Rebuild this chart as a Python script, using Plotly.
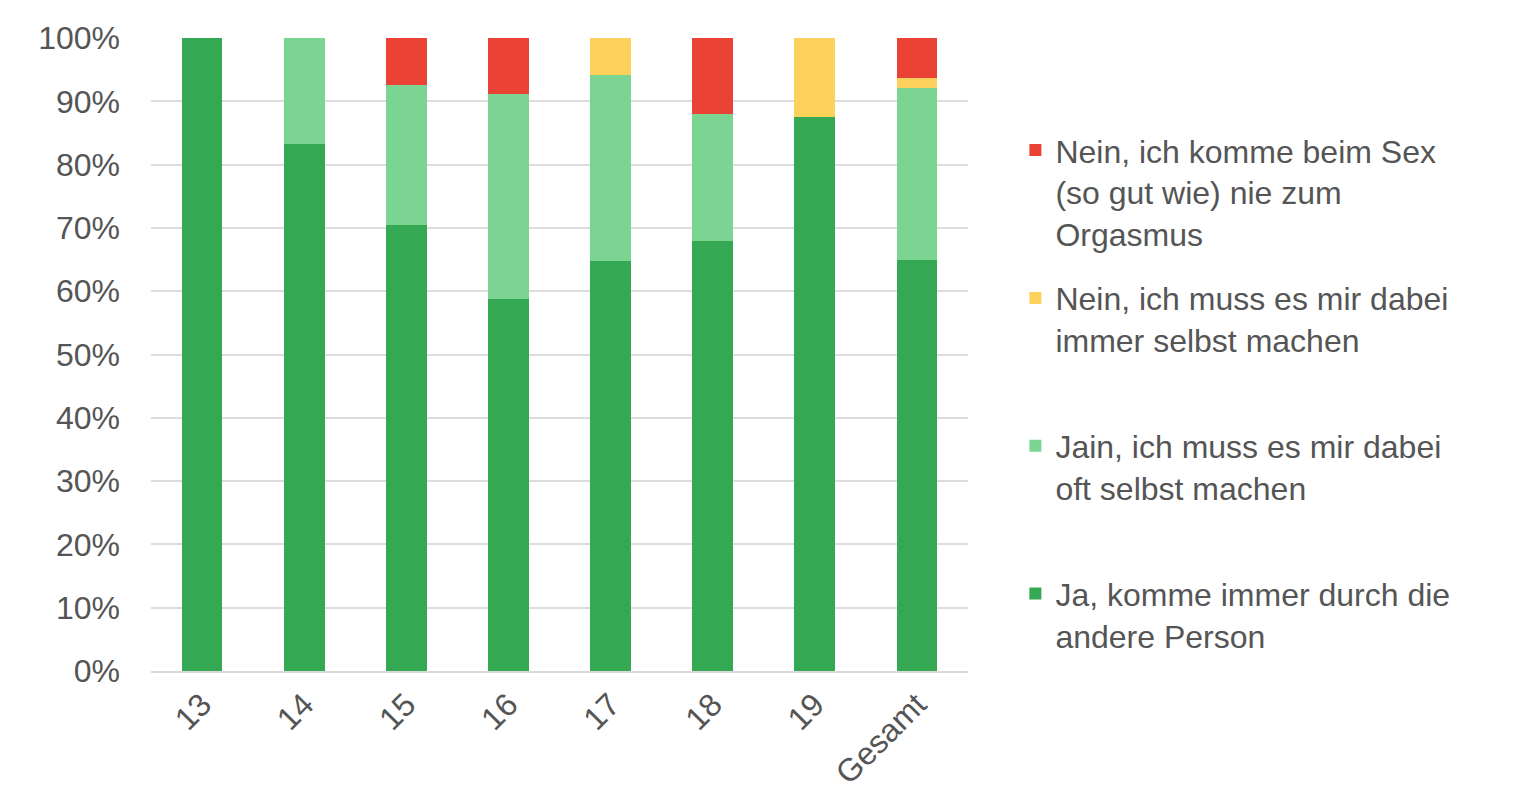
import plotly.graph_objects as go

categories = ["13", "14", "15", "16", "17", "18", "19", "Gesamt"]
ja_immer = [100.0, 83.3, 70.4, 58.8, 64.7, 68.0, 87.5, 64.9]
jain_oft = [0.0, 16.7, 22.2, 32.4, 29.4, 20.0, 0.0, 27.2]
nein_selbst = [0.0, 0.0, 0.0, 0.0, 5.9, 0.0, 12.5, 1.6]
nein_nie = [0.0, 0.0, 7.4, 8.8, 0.0, 12.0, 0.0, 6.3]
y_ticks = [0, 10, 20, 30, 40, 50, 60, 70, 80, 90, 100]
y_tick_labels = ["0%", "10%", "20%", "30%", "40%", "50%", "60%", "70%", "80%", "90%", "100%"]

series = [
    ("Ja, komme immer durch die<br>andere Person", ja_immer, "#34A853"),
    ("Jain, ich muss es mir dabei<br>oft selbst machen<br>&nbsp;", jain_oft, "#7BD492"),
    ("Nein, ich muss es mir dabei<br>immer selbst machen<br>&nbsp;", nein_selbst, "#FCD25C"),
    ("Nein, ich komme beim Sex<br>(so gut wie) nie zum<br>Orgasmus", nein_nie, "#EA4335"),
]

fig = go.Figure()
n = len(series)
for i, (name, vals, color) in enumerate(series):
    fig.add_trace(go.Bar(x=categories, y=vals, name=name, legendgroup=f"g{i}",
                         legendrank=n - i,
                         marker=dict(color=color, line=dict(width=0))))

font_family = "Liberation Sans, Arial, sans-serif"
fig.update_layout(
    barmode="stack",
    bargap=0.6,
    width=1527, height=807,
    margin=dict(l=143, r=567, t=26, b=144),
    paper_bgcolor="#ffffff",
    plot_bgcolor="#ffffff",
    font=dict(family=font_family, size=32, color="#555555"),
    legend=dict(
        traceorder="grouped",
        x=1.058, y=0.866, xanchor="left", yanchor="top",
        valign="top",
        font=dict(size=32, color="#555555"),
        tracegroupgap=20,
        bgcolor="rgba(0,0,0,0)",
    ),
    xaxis=dict(
        tickangle=-45,
        showgrid=False,
        showline=True, linecolor="#d9d9d9", linewidth=2,
        ticks="",
        tickfont=dict(size=32, color="#555555"),
    ),
    yaxis=dict(
        range=[0, 100],
        tickvals=y_ticks,
        ticktext=y_tick_labels,
        showgrid=True, gridcolor="#dddddd", gridwidth=2,
        zeroline=False,
        ticks="",
        ticklabelstandoff=30,
        tickfont=dict(size=32, color="#555555"),
    ),
)

fig.write_html("out.html")
